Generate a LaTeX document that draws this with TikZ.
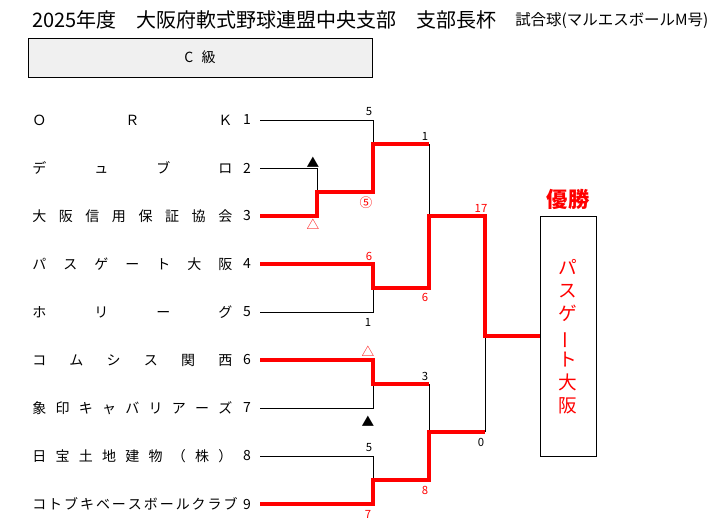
\documentclass[tikz,border=0pt]{standalone}
\usepackage{fontspec}
\usepackage{graphicx}
\setmainfont{Noto Sans CJK JP}
\begin{document}
\begin{tikzpicture}[x=0.75pt,y=-0.75pt,
  blk/.style={line width=0.75pt, black},
  wn/.style={line width=2.4pt, red, line join=miter},
  nm/.style={anchor=west, inner sep=0pt, font=\fontsize{10.5pt}{12pt}\selectfont},
  num/.style={inner sep=0pt, font=\fontsize{10.5pt}{12pt}\selectfont},
  sc/.style={inner sep=0pt, font=\fontsize{8.5pt}{9pt}\selectfont},
  scr/.style={sc, text=red},
  sy/.style={inner sep=0pt, font=\fontsize{9.5pt}{10pt}\selectfont},
  syr/.style={sy, text=red}
]
\useasboundingbox (0,0) rectangle (728,529);

% title
\node[anchor=west, inner sep=0pt, font=\fontsize{15pt}{16pt}\selectfont] (title) at (32,20) {2025年度　大阪府軟式野球連盟中央支部　支部長杯};
\node[anchor=west, inner sep=0pt, font=\fontsize{11.6pt}{12pt}\selectfont] (ball) at (515,21) {試合球(マルエスボールM号)};

% class box
\node[draw, line width=0.75pt, fill=black!6, minimum width=258pt, minimum height=29.25pt, inner sep=0pt, font=\fontsize{10.5pt}{12pt}\selectfont] (cls) at (200,57.5) {C\hspace{0.6em}級};

% names
\node[nm] (n1) at (32,120) {\makebox[150pt][l]{Ｏ\hfill Ｒ\hfill Ｋ}};
\node[nm] (n2) at (32,168) {\makebox[150pt][l]{デ\hfill ュ\hfill ブ\hfill ロ}};
\node[nm] (n3) at (32,216) {\makebox[150pt][l]{大\hfill 阪\hfill 信\hfill 用\hfill 保\hfill 証\hfill 協\hfill 会}};
\node[nm] (n4) at (32,264) {\makebox[150pt][l]{パ\hfill ス\hfill ゲ\hfill ー\hfill ト\hfill 大\hfill 阪}};
\node[nm] (n5) at (32,312) {\makebox[150pt][l]{ホ\hfill リ\hfill ー\hfill グ}};
\node[nm] (n6) at (32,360) {\makebox[150pt][l]{コ\hfill ム\hfill シ\hfill ス\hfill 関\hfill 西}};
\node[nm] (n7) at (32,408) {\makebox[150pt][l]{象\hfill 印\hfill キ\hfill ャ\hfill バ\hfill リ\hfill ア\hfill ー\hfill ズ}};
\node[nm] (n8) at (32,456) {\makebox[150pt][l]{日\hfill 宝\hfill 土\hfill 地\hfill 建\hfill 物\hfill （\hfill 株\hfill ）}};
\node[nm] (n9) at (32,504) {\makebox[154pt][l]{コ\hfill ト\hfill ブ\hfill キ\hfill ベ\hfill ー\hfill ス\hfill ボ\hfill ー\hfill ル\hfill ク\hfill ラ\hfill ブ}};

\foreach \i in {1,...,9} {
  \node[num] (k\i) at (247,{120+48*(\i-1)}) {\i};
  \coordinate (s\i) at (260,{120+48*(\i-1)});
}

% junctions
\coordinate (p2) at (317,168);
\coordinate (p3) at (317,216);
\coordinate (m1) at (317,192);
\coordinate (q1) at (373,192);
\coordinate (t1) at (373,120);
\coordinate (m2) at (373,144);
\coordinate (u1) at (429,144);
\coordinate (t4) at (373,264);
\coordinate (t5) at (373,312);
\coordinate (m3) at (373,288);
\coordinate (u2) at (429,288);
\coordinate (m4) at (429,216);
\coordinate (v1) at (485,216);
\coordinate (t6) at (373,360);
\coordinate (t7) at (373,408);
\coordinate (m5) at (373,384);
\coordinate (u3) at (429,384);
\coordinate (t8) at (373,456);
\coordinate (t9) at (373,504);
\coordinate (m6) at (373,480);
\coordinate (u4) at (429,480);
\coordinate (m7) at (429,432);
\coordinate (v2) at (485,432);
\coordinate (m8) at (485,336);

% winner box
\node[draw, line width=0.75pt, minimum width=42pt, minimum height=180pt, inner sep=0pt] (win) at (568,336) {};
\node[text=red, align=center, inner sep=0pt, font=\fontsize{14pt}{17.25pt}\selectfont] (champ) at (568,337) {パ\\ス\\ゲ\\\rotatebox[origin=c]{90}{ー}\\ト\\大\\阪};
\node[text=red, inner sep=0pt, font=\fontsize{16pt}{18pt}\selectfont\bfseries] (yusho) at (568,199) {優勝};

% black lines
\draw[blk] (s1) -- (t1) -- (m2);
\draw[blk] (s2) -- (p2) -- (m1);
\draw[blk] (s5) -- (t5) -- (m3);
\draw[blk] (s7) -- (t7) -- (m5);
\draw[blk] (s8) -- (t8) -- (m6);
\draw[blk] (u1) -- (m4);
\draw[blk] (u3) -- (m7);
\draw[blk] (v2) -- (m8);

% red lines
\draw[wn] (s3) -- (p3) -- (m1) -- (q1) -- (m2) -- (u1);
\draw[wn] (s4) -- (t4) -- (m3) -- (u2) -- (m4) -- (v1) -- (m8) -- (win.west);
\draw[wn] (s6) -- (t6) -- (m5) -- (u3);
\draw[wn] (s9) -- (t9) -- (m6) -- (u4) -- (m7) -- (v2);

% scores
\node[sc] (c1) at (369,112) {5};
\node[sc] (c2) at (425,136) {1};
\node[sy] (c3) at (313,162) {▲};
\node[syr] (c4) at (366,203) {⑤};
\node[syr] (c5) at (313,224) {△};
\node[scr] (c6) at (481,208) {17};
\node[scr] (c7) at (369,256) {6};
\node[scr] (c8) at (425,297) {6};
\node[sc] (c9) at (368,322) {1};
\node[syr] (c10) at (368,351) {△};
\node[sc] (c11) at (425,376) {3};
\node[sy] (c12) at (368,421) {▲};
\node[sc] (c13) at (369,448) {5};
\node[sc] (c14) at (481,442) {0};
\node[scr] (c15) at (425,490) {8};
\node[scr] (c16) at (368,514) {7};
\end{tikzpicture}
\end{document}
